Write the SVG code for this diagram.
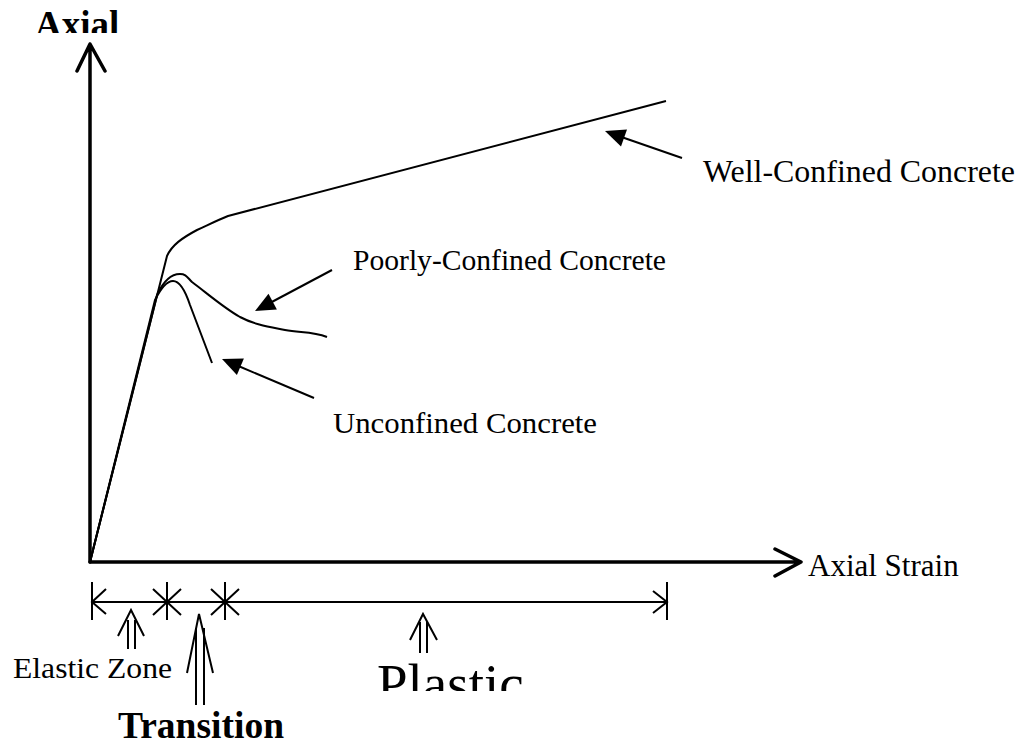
<svg xmlns="http://www.w3.org/2000/svg" width="1021" height="745" viewBox="0 0 1021 745">
<style>
.t{font-family:"Liberation Serif","Times New Roman",serif;fill:#000}
.b{font-weight:bold}
.ax{fill:none;stroke:#000;stroke-width:3.5;stroke-linecap:round;stroke-linejoin:round}
.c{fill:none;stroke:#000;stroke-width:2;stroke-linejoin:round}
.d{fill:none;stroke:#000;stroke-width:2}
.ah{fill:#000;stroke:none}
</style>
<defs>
<clipPath id="clipTop"><rect x="0" y="0" width="300" height="33"/></clipPath>
<clipPath id="clipPlastic"><rect x="300" y="640" width="300" height="51"/></clipPath>
</defs>
<rect width="1021" height="745" fill="#fff"/>
<g id="axes">
<path class="ax" d="M90,562 L90,44 M77,71 L90,44 L105,71"/>
<path class="ax" d="M90,562 L801,562 M775,549 L801,562 L775,576"/>
</g>
<g id="curves">
<path id="well-confined-curve" class="c" d="M90,562 L167,256 C172,245 182,238 197,230 C210,224 218,220 228,216 L666,101"/>
<path id="poorly-confined-curve" class="c" d="M90,562 L157,295 C163,282 170,274 180,274 C186,274 187,277 192,282 C208,294 224,308 240,317 C255,325 270,327 285,330 C300,333 312,331 327,337"/>
<path id="unconfined-curve" class="c" d="M90,562 L155,300 C160,290 166,281 173,281 C180,281 185,290 190,305 L212,363"/>
</g>
<g id="connectors">
<path class="c" d="M682,158 L620,136.5"/>
<polygon class="ah" points="605,131 627,129.5 621,146.5"/>
<path class="c" d="M332,270 L268,304"/>
<polygon class="ah" points="255,311 276.9,309.5 268.5,293.7"/>
<path class="c" d="M314,398 L236,365"/>
<polygon class="ah" points="222,359 243.9,358.5 236.9,375.1"/>
</g>
<g id="dimension">
<path class="d" d="M92,602 L667,602"/>
<path class="d" d="M92,582 L92,620 M106,589 L92,602 L106,614"/>
<path class="d" d="M167,582 L167,620 M153,589 L181,615 M153,615 L181,589"/>
<path class="d" d="M225,582 L225,620 M211,589 L239,615 M211,615 L239,589"/>
<path class="d" d="M667,582 L667,620 M653,591 L667,602 L653,613"/>
</g>
<g id="zone-arrows">
<path class="d" d="M128,620 L128,649 M135,620 L135,649 M118,636 L131,610 L144,636"/>
<path class="d" d="M196,628 L196,705 M204,628 L204,705 M187,673 L199,614 L213,673"/>
<path class="d" d="M420,622 L420,653 M427,622 L427,653 M410,640 L423,614 L437,640"/>
</g>
<g id="label-axial-stress"><text class="t b" x="35" y="37" font-size="37" clip-path="url(#clipTop)">Axial</text></g>
<g id="label-axial-strain"><text class="t" x="808" y="576" font-size="31">Axial Strain</text></g>
<g id="label-well"><text class="t" x="703" y="182" font-size="31" textLength="312" lengthAdjust="spacingAndGlyphs">Well-Confined Concrete</text></g>
<g id="label-poorly"><text class="t" x="353" y="270" font-size="30" textLength="313" lengthAdjust="spacingAndGlyphs">Poorly-Confined Concrete</text></g>
<g id="label-unconfined"><text class="t" x="333" y="433" font-size="30" textLength="264" lengthAdjust="spacingAndGlyphs">Unconfined Concrete</text></g>
<g id="label-elastic"><text class="t" x="13" y="678" font-size="30" textLength="159" lengthAdjust="spacingAndGlyphs">Elastic Zone</text></g>
<g id="label-transition"><text class="t b" x="118" y="738" font-size="37" textLength="166" lengthAdjust="spacingAndGlyphs">Transition</text></g>
<g id="label-plastic"><text class="t" x="377" y="702" font-size="55" clip-path="url(#clipPlastic)">Plastic</text></g>
</svg>
